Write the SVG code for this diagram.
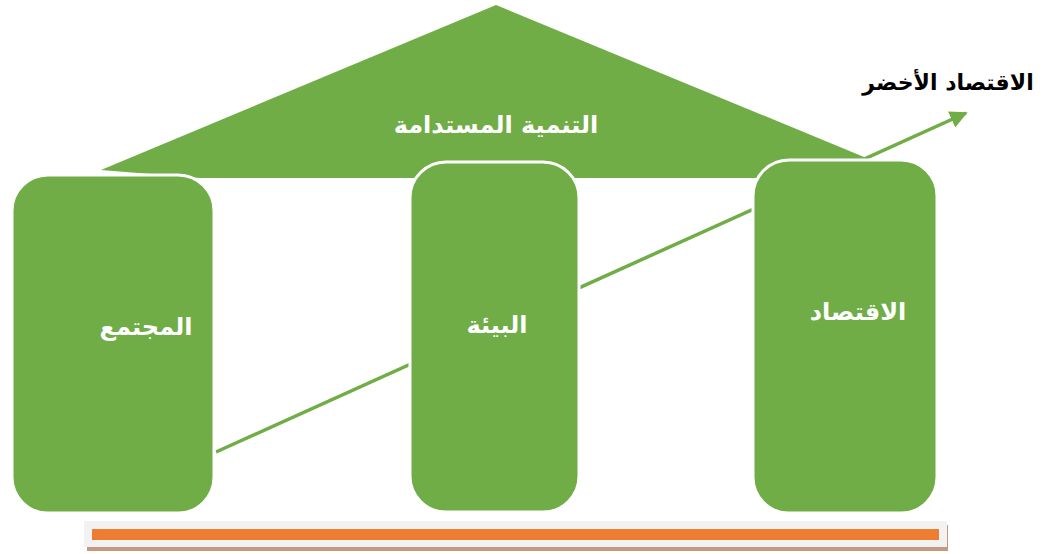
<svg xmlns="http://www.w3.org/2000/svg" width="1051" height="554" viewBox="0 0 1051 554">
<style>
.box{fill:#70AD47;stroke:#FFFFFF;stroke-width:3}
.lbl{font-family:"DejaVu Sans","Noto Sans",sans-serif;font-weight:bold;fill:#FFFFFF;font-size:24px;text-anchor:middle}
</style>
<defs>
<marker id="arr" viewBox="0 0 10 10" refX="9" refY="5" markerWidth="5" markerHeight="5" orient="auto" markerUnits="strokeWidth">
<path d="M0,0 L10,5 L0,10 z" fill="#70AD47"/>
</marker>
</defs>
<rect width="1051" height="554" fill="#FFFFFF"/>
<g id="roof">
<polygon points="496,5 864,157 860,178 200,178 101,170" fill="#70AD47"/>
<text class="lbl" x="496" y="133" font-size="26">التنمية المستدامة</text>
</g>
<g id="connectors">
<line x1="216" y1="452" x2="966" y2="113" stroke="#70AD47" stroke-width="3.5" marker-end="url(#arr)"/>
</g>
<g id="society">
<rect class="box" x="12" y="175" width="202" height="338" rx="36" ry="36"/>
<text class="lbl" x="146" y="335">المجتمع</text>
</g>
<g id="environment">
<rect class="box" x="410" y="162" width="169" height="350" rx="36" ry="36"/>
<text class="lbl" x="497" y="333">البيئة</text>
</g>
<g id="economy">
<rect class="box" x="753" y="160" width="184" height="353" rx="36" ry="36"/>
<text class="lbl" x="858" y="320">الاقتصاد</text>
</g>
<g id="green-economy">
<text x="948" y="90" font-family="DejaVu Sans,'Noto Sans',sans-serif" font-weight="bold" font-size="22" fill="#000000" text-anchor="middle">الاقتصاد الأخضر</text>
</g>
<g id="base">
<rect x="87" y="525" width="861" height="26" fill="#C19A80"/>
<rect x="84" y="521" width="863" height="26" fill="#F2F2F2"/>
<rect x="92" y="529" width="847" height="11" fill="#ED7D31"/>
</g>
</svg>
